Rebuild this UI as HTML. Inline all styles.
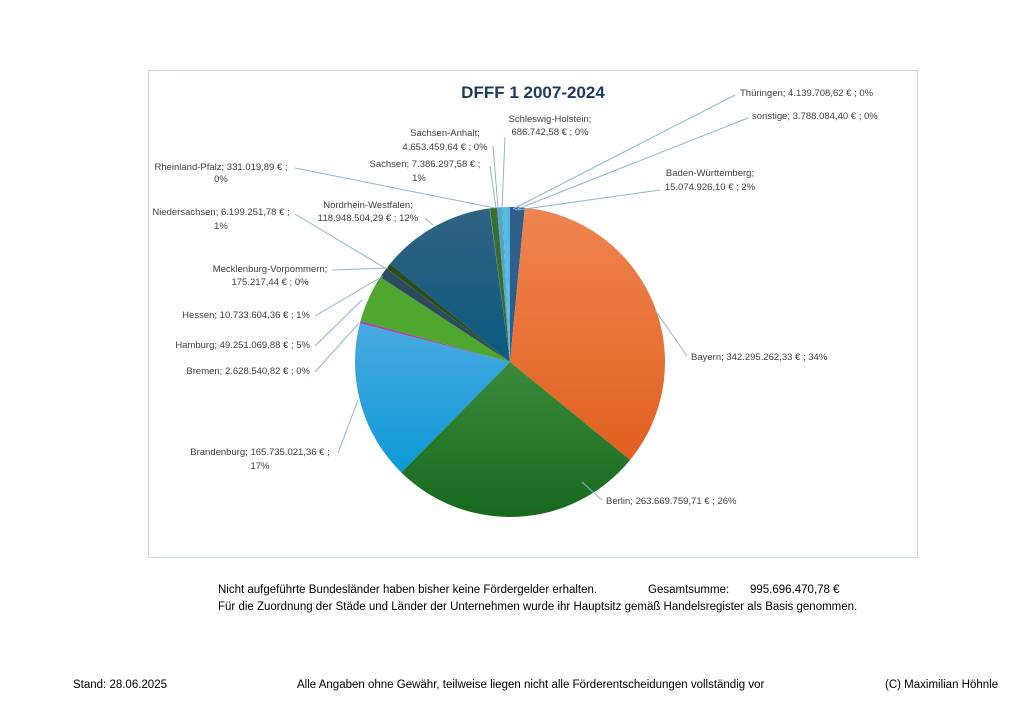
<!DOCTYPE html>
<html><head><meta charset="utf-8"><style>
body{margin:0;width:1024px;height:724px;background:#fff;position:relative;font-family:"Liberation Sans",sans-serif;overflow:hidden}
.t{position:absolute;font-size:11.5px;color:#000;white-space:nowrap}
svg text{font-family:"Liberation Sans",sans-serif;font-size:9.5px;fill:#404040}
</style></head><body>
<svg width="1024" height="724" style="position:absolute;left:0;top:0">
<defs>
<linearGradient id="gB" x1="0" y1="0" x2="0" y2="1"><stop offset="0" stop-color="#f08550"/><stop offset="1" stop-color="#e0601f"/></linearGradient>
<linearGradient id="gBe" x1="0" y1="0" x2="0" y2="1"><stop offset="0" stop-color="#3a8a3a"/><stop offset="1" stop-color="#17691f"/></linearGradient>
<linearGradient id="gBr" x1="0" y1="0" x2="0" y2="1"><stop offset="0" stop-color="#4aa9e0"/><stop offset="1" stop-color="#0c9ad8"/></linearGradient>
<linearGradient id="gN" x1="0" y1="0" x2="0" y2="1"><stop offset="0" stop-color="#2f6385"/><stop offset="1" stop-color="#0b5a80"/></linearGradient>
</defs>
<rect x="148.5" y="70.5" width="769" height="487" fill="#fff" stroke="#c5d9ea"/>
<text x="533" y="98" text-anchor="middle" style="font-size:17px;font-weight:bold;fill:#1f3a5a">DFFF 1 2007-2024</text>
<g id="pie"></g>
<g stroke="#8db4dc" stroke-width="1" fill="none">
<polyline points="735,95 513,209"/>
<polyline points="748,118 515,210"/>
<polyline points="660,190 518,210"/>
<polyline points="505,137 502,208"/>
<polyline points="493,146 498,208"/>
<polyline points="490,166 496,208"/>
<polyline points="295,168 495,208"/>
<polyline points="295,214 385,268"/>
<polyline points="425,218 433,225"/>
<polyline points="332,270 388,268"/>
<polyline points="315,316 383,276"/>
<polyline points="315,346 362,300"/>
<polyline points="315,372 359,323"/>
<polyline points="338,453 358,400"/>
<polyline points="602,500 582,482"/>
<polyline points="687,356 655,310"/>
</g>
<text x="740" y="96">Thüringen; 4.139.708,62 € ; 0%</text>
<text x="752" y="119">sonstige; 3.788.084,40 € ; 0%</text>
<text x="710" y="176" text-anchor="middle">Baden-Württemberg;</text>
<text x="710" y="190" text-anchor="middle">15.074.926,10 € ; 2%</text>
<text x="550" y="122" text-anchor="middle">Schleswig-Holstein;</text>
<text x="550" y="135" text-anchor="middle">686.742,58 € ; 0%</text>
<text x="445" y="136" text-anchor="middle">Sachsen-Anhalt;</text>
<text x="445" y="150" text-anchor="middle">4.653.459,64 € ; 0%</text>
<text x="425" y="167" text-anchor="middle">Sachsen; 7.386.297,58 € ;</text>
<text x="419" y="181" text-anchor="middle">1%</text>
<text x="221" y="170" text-anchor="middle">Rheinland-Pfalz; 331.019,89 € ;</text>
<text x="221" y="182" text-anchor="middle">0%</text>
<text x="221" y="215" text-anchor="middle">Niedersachsen; 6.199.251,78 € ;</text>
<text x="221" y="229" text-anchor="middle">1%</text>
<text x="368" y="208" text-anchor="middle">Nordrhein-Westfalen;</text>
<text x="368" y="221" text-anchor="middle">118.948.504,29 € ; 12%</text>
<text x="270" y="272" text-anchor="middle">Mecklenburg-Vorpommern;</text>
<text x="270" y="285" text-anchor="middle">175.217,44 € ; 0%</text>
<text x="310" y="318" text-anchor="end">Hessen; 10.733.604,36 € ; 1%</text>
<text x="310" y="348" text-anchor="end">Hamburg; 49.251.069,88 € ; 5%</text>
<text x="310" y="374" text-anchor="end">Bremen; 2.628.540,82 € ; 0%</text>
<text x="260" y="455" text-anchor="middle">Brandenburg; 165.735.021,36 € ;</text>
<text x="260" y="469" text-anchor="middle">17%</text>
<text x="606" y="504">Berlin; 263.669.759,71 € ; 26%</text>
<text x="691" y="360">Bayern; 342.295.262,33 € ; 34%</text>
</svg>
<div class="t" style="left:218px;top:584px">Nicht aufgeführte Bundesländer haben bisher keine Fördergelder erhalten.</div>
<div class="t" style="left:648px;top:584px">Gesamtsumme:</div>
<div class="t" style="left:750px;top:584px">995.696.470,78 €</div>
<div class="t" style="left:218px;top:601px">Für die Zuordnung der Städe und Länder der Unternehmen wurde ihr Hauptsitz gemäß Handelsregister als Basis genommen.</div>
<div class="t" style="left:73px;top:679px">Stand: 28.06.2025</div>
<div class="t" style="left:297px;top:679px">Alle Angaben ohne Gewähr, teilweise liegen nicht alle Förderentscheidungen vollständig vor</div>
<div class="t" style="left:885px;top:679px">(C) Maximilian Höhnle</div>
<script>
var d=[[15.074926,"#2d5f8a"],[342.295262,"url(#gB)"],[263.669760,"url(#gBe)"],[165.735021,"url(#gBr)"],[2.628541,"#9b4f9b"],[49.251070,"#4ea72e"],[10.733604,"#2f4a5e"],[0.175217,"#5a3d2a"],[6.199252,"#2a4d1e"],[118.948504,"url(#gN)"],[0.331020,"#6aa6d8"],[7.386298,"#3b6d2b"],[4.653460,"#5aa0d8"],[0.686743,"#4ea72e"],[4.139709,"#4ac0e8"],[3.788084,"#5bb0e0"]];
var T=0;d.forEach(function(x){T+=x[0]});
var cx=510,cy=362,r=155,a=0,g=document.getElementById('pie'),s='';
d.forEach(function(x){var b=a+x[0]/T*2*Math.PI;
var x1=cx+r*Math.sin(a),y1=cy-r*Math.cos(a),x2=cx+r*Math.sin(b),y2=cy-r*Math.cos(b);
s+='<path d="M'+cx+','+cy+'L'+x1+','+y1+'A'+r+','+r+' 0 '+((b-a)>Math.PI?1:0)+' 1 '+x2+','+y2+'Z" fill="'+x[1]+'"/>';a=b;});
g.innerHTML=s;
</script>
</body></html>
